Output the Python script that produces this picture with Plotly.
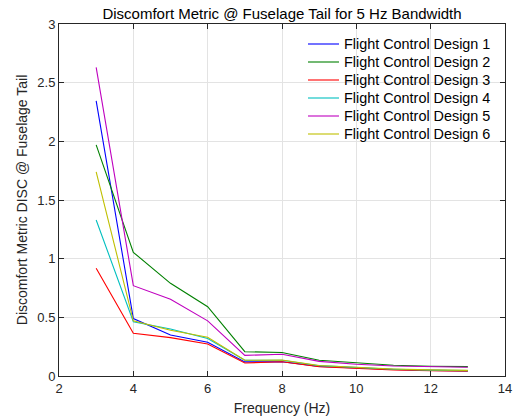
import plotly.graph_objects as go

# Frequency samples (Hz)
freq = [3, 4, 5, 6, 7, 8, 9, 10, 11, 12, 13]

# Discomfort metric per flight control design
design1 = [2.345, 0.49, 0.35, 0.287, 0.12, 0.122, 0.082, 0.066, 0.055, 0.048, 0.044]
design2 = [1.97, 1.054, 0.79, 0.59, 0.207, 0.2, 0.134, 0.111, 0.091, 0.083, 0.08]
design3 = [0.918, 0.364, 0.327, 0.273, 0.111, 0.122, 0.08, 0.064, 0.052, 0.045, 0.04]
design4 = [1.33, 0.463, 0.40, 0.32, 0.134, 0.134, 0.088, 0.07, 0.058, 0.05, 0.046]
design5 = [2.63, 0.77, 0.654, 0.47, 0.176, 0.185, 0.125, 0.10, 0.085, 0.08, 0.075]
design6 = [1.74, 0.47, 0.39, 0.33, 0.134, 0.136, 0.09, 0.072, 0.06, 0.052, 0.048]

series = [design1, design2, design3, design4, design5, design6]
names = [f"Flight Control Design {i}" for i in range(1, 7)]
colors = ["rgb(0,0,255)", "rgb(0,128,0)", "rgb(255,0,0)",
          "rgb(0,191,191)", "rgb(191,0,191)", "rgb(191,191,0)"]

x_ticks = [2, 4, 6, 8, 10, 12, 14]
y_ticks = [0, 0.5, 1, 1.5, 2, 2.5, 3]

W, H = 522, 420
ML, MR, MT, MB = 59, 17, 24, 44
PW, PH = W - ML - MR, H - MT - MB

fig = go.Figure()
for vals, name, col in zip(series, names, colors):
    fig.add_trace(go.Scatter(x=freq, y=vals, mode="lines", name=name,
                             line=dict(color=col, width=1.1), showlegend=False))

font = "Liberation Sans, Arial, Helvetica, sans-serif"

# Compact legend drawn in paper coordinates (tight row spacing)
leg_x0, leg_x1, leg_text_x = 308, 339, 342
leg_y0, leg_dy = 44, 18
shapes, annotations = [], []
for i, (name, col) in enumerate(zip(names, colors)):
    ypx = leg_y0 + i * leg_dy
    yp = 1 - (ypx - MT) / PH
    shapes.append(dict(type="line", xref="paper", yref="paper",
                       x0=(leg_x0 - ML) / PW, x1=(leg_x1 - ML) / PW, y0=yp, y1=yp,
                       line=dict(color=col, width=1.1)))
    annotations.append(dict(text=name, xref="paper", yref="paper",
                            x=(leg_text_x - ML) / PW, y=yp, xanchor="left", yanchor="middle",
                            showarrow=False, font=dict(size=14.4, color="black", family=font)))

axis_common = dict(
    showline=True, mirror="ticks", linecolor="#262626", linewidth=1,
    ticks="inside", ticklen=5, tickcolor="#262626",
    showgrid=True, gridcolor="#e3e3e3", gridwidth=1,
    zeroline=False, automargin=False,
    tickfont=dict(size=13, color="#262626", family=font),
)

fig.update_layout(
    width=W, height=H,
    margin=dict(l=ML, r=MR, t=MT, b=MB),
    paper_bgcolor="white", plot_bgcolor="white",
    font=dict(family=font, color="#262626"),
    title=dict(text="Discomfort Metric @ Fuselage Tail for 5 Hz Bandwidth",
               x=(ML + W - MR) / 2 / W, xanchor="center", y=1 - 14 / H, yanchor="middle",
               font=dict(size=15, color="black", family=font)),
    xaxis=dict(axis_common, range=[2, 14], tickvals=x_ticks,
               title=dict(text="Frequency (Hz)", font=dict(size=14, family=font), standoff=8)),
    yaxis=dict(axis_common, range=[0, 3], tickvals=y_ticks,
               title=dict(text="Discomfort Metric DISC @ Fuselage Tail",
                          font=dict(size=14, family=font), standoff=6)),
    shapes=shapes,
    annotations=annotations,
    showlegend=False,
)

fig.write_html("out.html")
